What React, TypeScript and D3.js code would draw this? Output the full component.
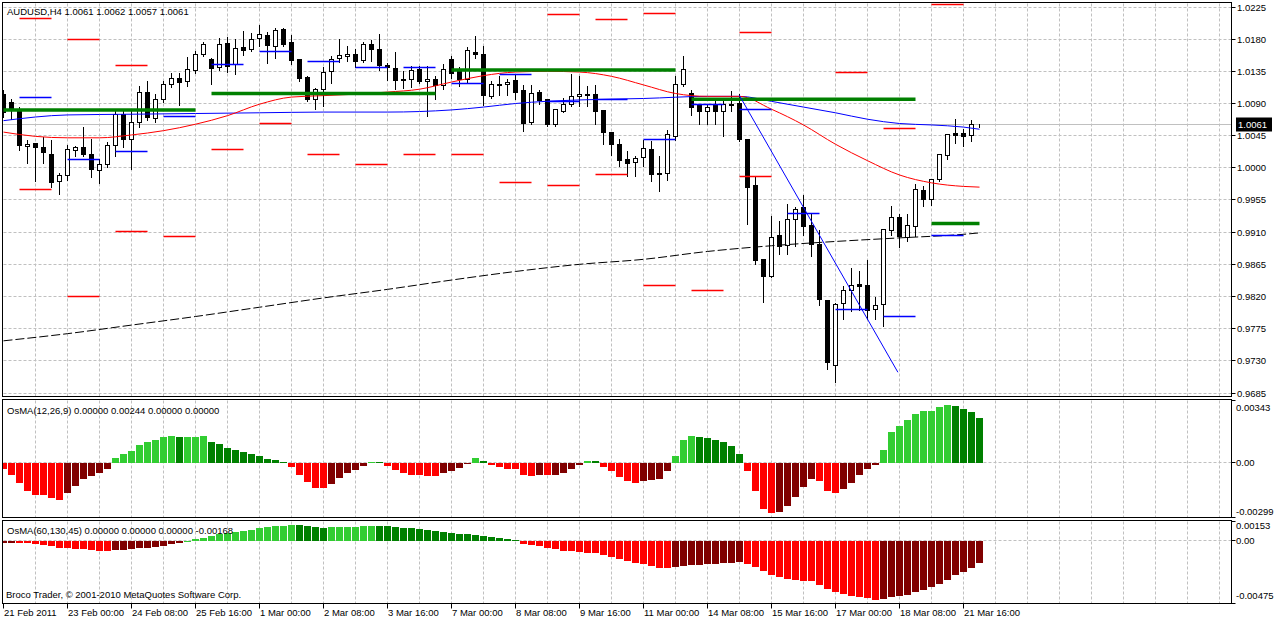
import React from 'react';
import * as d3 from 'd3';

const FONT = '"Liberation Sans", Arial, sans-serif';

const symbolTitle = 'AUDUSD,H4  1.0061 1.0062 1.0057 1.0061';
const fastTitle = 'OsMA(12,26,9) 0.00000 0.00244 0.00000 0.00000';
const slowTitle = 'OsMA(60,130,45) 0.00000 0.00000 0.00000 -0.00168';
const copyright = 'Broco Trader, \u00a9 2001-2010 MetaQuotes Software Corp.';

// H4 candles, [open, high, low, close]
const ohlc: [number, number, number, number][] = [
  [1.0103, 1.0109, 1.0071, 1.0078], [1.0091, 1.0096, 1.0068, 1.0081], [1.0081, 1.0085, 1.0025, 1.0031],
  [1.0030, 1.0039, 1.0007, 1.0033], [1.0034, 1.0035, 0.9982, 1.0029], [1.0029, 1.0043, 1.0007, 1.0022],
  [1.0019, 1.0039, 0.9973, 0.9979], [0.9981, 0.9993, 0.9963, 0.9989], [0.9989, 1.0032, 0.9983, 1.0026],
  [1.0024, 1.0031, 1.0017, 1.0028], [1.0029, 1.0057, 1.0017, 1.0019], [1.0019, 1.0041, 0.9987, 0.9998],
  [0.9996, 1.0012, 0.9979, 1.0005], [1.0005, 1.0036, 1.0001, 1.0031], [1.0031, 1.0080, 1.0017, 1.0075],
  [1.0075, 1.0080, 1.0029, 1.0039], [1.0040, 1.0080, 0.9999, 1.0063], [1.0064, 1.0115, 1.0057, 1.0106],
  [1.0105, 1.0122, 1.0067, 1.0070], [1.0069, 1.0103, 1.0064, 1.0096], [1.0096, 1.0122, 1.0092, 1.0117],
  [1.0117, 1.0132, 1.0113, 1.0125], [1.0125, 1.0133, 1.0088, 1.0119], [1.0121, 1.0155, 1.0114, 1.0138],
  [1.0136, 1.0164, 1.0133, 1.0158], [1.0159, 1.0176, 1.0156, 1.0172], [1.0152, 1.0153, 1.0117, 1.0139],
  [1.0141, 1.0182, 1.0137, 1.0173], [1.0174, 1.0183, 1.0134, 1.0142], [1.0144, 1.0180, 1.0131, 1.0167],
  [1.0169, 1.0192, 1.0158, 1.0164], [1.0166, 1.0188, 1.0163, 1.0180], [1.0181, 1.0200, 1.0171, 1.0186],
  [1.0185, 1.0190, 1.0146, 1.0171], [1.0170, 1.0195, 1.0154, 1.0192], [1.0193, 1.0195, 1.0171, 1.0172],
  [1.0176, 1.0186, 1.0145, 1.0150], [1.0151, 1.0152, 1.0121, 1.0125], [1.0127, 1.0128, 1.0094, 1.0095],
  [1.0096, 1.0111, 1.0082, 1.0109], [1.0110, 1.0141, 1.0087, 1.0134], [1.0135, 1.0157, 1.0119, 1.0151],
  [1.0153, 1.0180, 1.0148, 1.0157], [1.0156, 1.0171, 1.0149, 1.0159], [1.0159, 1.0166, 1.0141, 1.0149],
  [1.0150, 1.0176, 1.0148, 1.0173], [1.0173, 1.0179, 1.0149, 1.0166], [1.0165, 1.0187, 1.0137, 1.0143],
  [1.0143, 1.0147, 1.0123, 1.0140], [1.0139, 1.0162, 1.0110, 1.0122], [1.0124, 1.0136, 1.0111, 1.0122],
  [1.0124, 1.0142, 1.0113, 1.0136], [1.0137, 1.0143, 1.0118, 1.0121], [1.0121, 1.0142, 1.0072, 1.0124],
  [1.0123, 1.0128, 1.0096, 1.0115], [1.0115, 1.0145, 1.0110, 1.0137], [1.0151, 1.0157, 1.0126, 1.0132],
  [1.0135, 1.0141, 1.0114, 1.0123], [1.0124, 1.0169, 1.0119, 1.0164], [1.0162, 1.0185, 1.0154, 1.0158],
  [1.0159, 1.0171, 1.0088, 1.0101], [1.0100, 1.0122, 1.0097, 1.0117], [1.0117, 1.0128, 1.0102, 1.0115],
  [1.0116, 1.0124, 1.0102, 1.0120], [1.0122, 1.0131, 1.0096, 1.0105], [1.0108, 1.0116, 1.0051, 1.0062],
  [1.0063, 1.0116, 1.0061, 1.0104], [1.0106, 1.0109, 1.0089, 1.0094], [1.0096, 1.0096, 1.0059, 1.0060],
  [1.0061, 1.0081, 1.0058, 1.0081], [1.0079, 1.0097, 1.0078, 1.0089], [1.0089, 1.0131, 1.0087, 1.0100],
  [1.0100, 1.0128, 1.0087, 1.0103], [1.0103, 1.0115, 1.0087, 1.0101], [1.0103, 1.0116, 1.0061, 1.0079],
  [1.0080, 1.0080, 1.0033, 1.0049], [1.0049, 1.0049, 1.0018, 1.0032], [1.0033, 1.0040, 1.0002, 1.0010],
  [1.0012, 1.0023, 0.9988, 1.0006], [1.0007, 1.0017, 0.9988, 1.0013], [1.0015, 1.0039, 1.0002, 1.0027],
  [1.0026, 1.0038, 0.9981, 0.9991], [0.9991, 1.0017, 0.9967, 0.9992], [0.9992, 1.0053, 0.9983, 1.0046],
  [1.0044, 1.0129, 1.0039, 1.0117], [1.0116, 1.0157, 1.0114, 1.0138], [1.0104, 1.0109, 1.0074, 1.0084],
  [1.0087, 1.0090, 1.0061, 1.0079], [1.0079, 1.0090, 1.0061, 1.0085], [1.0087, 1.0094, 1.0061, 1.0079],
  [1.0079, 1.0095, 1.0044, 1.0089], [1.0089, 1.0108, 1.0079, 1.0087], [1.0090, 1.0103, 1.0038, 1.0039],
  [1.0039, 1.0039, 0.9922, 0.9973], [0.9975, 0.9988, 0.9866, 0.9870], [0.9872, 0.9872, 0.9813, 0.9848],
  [0.9848, 0.9933, 0.9847, 0.9903], [0.9905, 0.9926, 0.9879, 0.9890], [0.9892, 0.9949, 0.9880, 0.9928],
  [0.9928, 0.9945, 0.9891, 0.9942], [0.9944, 0.9962, 0.9906, 0.9918], [0.9920, 0.9936, 0.9876, 0.9893],
  [0.9893, 0.9913, 0.9808, 0.9816], [0.9815, 0.9815, 0.9718, 0.9727], [0.9723, 0.9811, 0.9701, 0.9809],
  [0.9810, 0.9835, 0.9788, 0.9828], [0.9828, 0.9860, 0.9800, 0.9835], [0.9837, 0.9855, 0.9801, 0.9834],
  [0.9835, 0.9871, 0.9788, 0.9801], [0.9802, 0.9820, 0.9788, 0.9808], [0.9809, 0.9914, 0.9779, 0.9914],
  [0.9913, 0.9947, 0.9906, 0.9931], [0.9930, 0.9935, 0.9889, 0.9904], [0.9903, 0.9935, 0.9897, 0.9919],
  [0.9918, 0.9977, 0.9904, 0.9969], [0.9968, 0.9975, 0.9946, 0.9956], [0.9956, 0.9984, 0.9948, 0.9983],
  [0.9984, 1.0019, 0.9982, 1.0019], [1.0017, 1.0047, 1.0012, 1.0047], [1.0048, 1.0068, 1.0035, 1.0045],
  [1.0048, 1.0055, 1.0030, 1.0044], [1.0045, 1.0067, 1.0037, 1.0061], [1.0061, 1.0062, 1.0057, 1.0061],
];

const lastPrice = 1.0061;

const timeLabels = [
  '21 Feb 2011', '23 Feb 00:00', '24 Feb 08:00', '25 Feb 16:00', '1 Mar 00:00', '2 Mar 08:00',
  '3 Mar 16:00', '7 Mar 00:00', '8 Mar 08:00', '9 Mar 16:00', '11 Mar 00:00', '14 Mar 08:00',
  '15 Mar 16:00', '17 Mar 00:00', '18 Mar 08:00', '21 Mar 16:00',
];
const barsPerLabel = 8;

const priceTicks = [1.0225, 1.018, 1.0135, 1.009, 1.0045, 1.0, 0.9955, 0.991, 0.9865, 0.982, 0.9775, 0.973, 0.9685];

// moving averages, sampled at the given bar indices
const redMaIdx = [0, 4, 8, 12, 16, 20, 24, 28, 32, 36, 40, 44, 48, 52, 56, 60, 64, 68, 72, 76, 80, 84, 88, 92, 96, 100, 104, 108, 112, 116, 120, 122];
const redMa = [1.0050, 1.0044, 1.0042, 1.0042, 1.0046, 1.0052, 1.0061, 1.0073, 1.0089, 1.0099, 1.0101, 1.0103, 1.0106, 1.0110, 1.0120, 1.0129,
  1.0134, 1.0135, 1.0134, 1.0128, 1.0116, 1.0104, 1.0100, 1.0100, 1.0082, 1.0060, 1.0033, 1.0010, 0.9990, 0.9979, 0.9974, 0.9973];
const blueMaIdx = [0, 8, 16, 24, 32, 40, 48, 56, 60, 64, 72, 80, 88, 92, 96, 100, 104, 108, 112, 116, 120, 122];
const blueMa = [1.0066, 1.0074, 1.0075, 1.0076, 1.0077, 1.0078, 1.0078, 1.0081, 1.0085, 1.0090, 1.0095, 1.0097, 1.0100, 1.0100, 1.0093,
  1.0085, 1.0077, 1.0068, 1.0062, 1.0060, 1.0057, 1.0054];
const slowMaIdx = [0, 8, 16, 24, 32, 40, 48, 56, 64, 72, 80, 88, 96, 104, 112, 120, 122];
const slowMa = [0.9758, 0.9768, 0.9780, 0.9792, 0.9805, 0.9818, 0.9830, 0.9843, 0.9855, 0.9865, 0.9872, 0.9883, 0.9891, 0.9897, 0.9902, 0.9907, 0.9909];

// daily levels: [first bar of the day, price]
const redLevels: [number, number][] = [
  [2, 1.0209], [2, 0.9969], [8, 1.0180], [8, 0.9820], [14, 1.0143], [14, 0.9911], [20, 0.9904], [26, 1.0026],
  [32, 1.0062], [38, 1.0019], [44, 1.0005], [50, 1.0019], [56, 1.0018], [62, 0.9980], [68, 1.0214], [68, 0.9975],
  [74, 1.0208], [74, 0.9990], [80, 1.0216], [80, 0.9836], [86, 0.9828], [92, 1.0189], [92, 0.9988], [104, 1.0133],
  [110, 1.0055], [116, 1.0228],
];
const blueLevels: [number, number][] = [
  [2, 1.0099], [8, 1.0012], [14, 1.0023], [20, 1.0072], [26, 1.0145], [32, 1.0163], [38, 1.0149], [44, 1.0141],
  [50, 1.0141], [56, 1.0118], [62, 1.0130], [68, 1.0093], [74, 1.0096], [80, 1.0039], [86, 1.0088], [92, 1.0082],
  [98, 0.9936], [104, 0.9802], [110, 0.9792], [116, 0.9905],
];
const levelBars = 4;
// weekly levels: [from bar, to bar, price]
const greenLevels: [number, number, number][] = [
  [0, 24, 1.0081], [26, 54, 1.0104], [56, 84, 1.0137], [86, 114, 1.0096], [116, 122, 0.9922],
];
const trendLine: [number, number][] = [[92, 1.0101], [111.8, 0.9714]];

// OsMA histograms in units of 0.00001, first value belongs to the bar before the window
const osmaFastPts = [
  -10, -33, -70, -115, -154, -180, -181, -196, -203, -170, -130,
  -93, -75, -60, -33, 24, 46, 64, 95, 114, 125,
  141, 144, 139, 140, 141, 144, 115, 104, 82, 66,
  55, 44, 35, 22, 15, 3, -26, -66, -108, -141,
  -142, -119, -84, -59, -42, -20, 2, 1, -20, -42,
  -60, -68, -71, -75, -76, -60, -44, -31, -4, 24,
  7, -14, -22, -33, -38, -71, -72, -66, -71, -70,
  -55, -33, -11, 11, 10, -22, -49, -77, -104, -115,
  -99, -98, -93, -49, 38, 121, 143, 142, 137, 126,
  110, 93, 49, -44, -154, -253, -275, -274, -236, -187,
  -132, -93, -99, -159, -170, -148, -110, -71, -38, -16,
  71, 165, 203, 231, 264, 280, 285, 302, 313, 312,
  296, 275, 242,
];
const osmaSlowPts = [
  -16, -13, -12, -18, -19, -23, -28, -38, -54, -55, -59,
  -61, -71, -77, -78, -71, -69, -61, -56, -51, -44,
  -36, -23, -13, 2, 15, 25, 36, 56, 64, 71,
  79, 84, 100, 107, 115, 116, 125, 124, 115, 107,
  102, 107, 108, 109, 110, 115, 116, 115, 114, 107,
  100, 99, 92, 84, 77, 69, 64, 56, 55, 46,
  41, 31, 23, 15, 5, -21, -28, -36, -51, -61,
  -74, -75, -82, -90, -91, -105, -120, -136, -151, -166,
  -174, -189, -205, -206, -197, -189, -182, -181, -174, -173,
  -166, -165, -164, -174, -197, -228, -258, -273, -289, -296,
  -304, -305, -335, -365, -388, -404, -419, -427, -434, -450,
  -442, -427, -419, -411, -388, -373, -350, -327, -296, -258,
  -235, -205, -168,
];
const fastTicks = [0.00343, 0, -0.00299];
const slowTicks = [0.00153, 0, -0.00475];

const crisp = (v: number) => Math.round(v - 0.5) + 0.5;

const L = 2.5, R = 1231.5;
const MAIN = { top: 2.5, bottom: 396.5 };
const FAST = { top: 399.5, bottom: 517.5 };
const SLOW = { top: 520.5, bottom: 603.5 };

function histColor(v: number, prev: number) {
  if (v > 0) return v > prev ? '#32CD32' : '#008000';
  return v < prev ? '#FF0000' : '#800000';
}

function Histogram({ pts, y, clip }: { pts: number[]; y: d3.ScaleLinear<number, number>; clip: string }) {
  const x = (i: number) => 3.5 + 8 * i;
  const y0 = Math.round(y(0));
  return (
    <g clipPath={`url(#${clip})`}>
      {pts.slice(1).map((p, k) => {
        const v = p / 1e5;
        const yv = Math.round(y(v));
        const top = Math.min(yv, y0);
        const h = Math.max(Math.abs(yv - y0), 1);
        return <rect key={k} x={x(k) - 3.5} y={v >= 0 ? top : y0} width={7} height={h} fill={histColor(p, pts[k])} />;
      })}
    </g>
  );
}

export default function App() {
  const x = d3.scaleLinear().domain([0, 1]).range([3.5, 11.5]);
  const yMain = d3.scaleLinear().domain([0.9685, 1.0225]).range([393, 7]);
  const yFast = d3.scaleLinear().domain([-0.00299, 0.00343]).range([517, 400]);
  const ySlow = d3.scaleLinear().domain([-0.00475, 0.00153]).range([603, 521]);

  const maLine = d3.line<[number, number]>().x(d => x(d[0])).y(d => yMain(d[1])).curve(d3.curveMonotoneX);
  const redPath = maLine(redMaIdx.map((b, k) => [b, redMa[k]])) || '';
  const bluePath = maLine(blueMaIdx.map((b, k) => [b, blueMa[k]])) || '';
  const slowPath = maLine(slowMaIdx.map((b, k) => [b, slowMa[k]])) || '';
  const trendPath = d3.line<[number, number]>().x(d => x(d[0])).y(d => yMain(d[1]))(trendLine) || '';

  const gridX: number[] = [];
  for (let b = 4; x(b) < R; b += 4) gridX.push(x(b));

  const grid = '#C0C0C0';
  const txt = { fontFamily: FONT, fontSize: 9.5, fill: '#000' } as const;

  const vGrid = (top: number, bottom: number) =>
    gridX.map((gx, k) => (
      <line key={k} x1={gx} x2={gx} y1={top + 1} y2={bottom} stroke={grid} strokeDasharray="3,2" />
    ));

  const lastY = crisp(yMain(lastPrice));

  return (
    <div style={{ position: 'fixed', left: 0, top: 0 }}>
      <svg width={1274} height={620} style={{ display: 'block', background: '#fff' }}>
        <defs>
          <clipPath id="cMain"><rect x={L + 0.5} y={MAIN.top + 0.5} width={R - L - 1} height={MAIN.bottom - MAIN.top - 1} /></clipPath>
          <clipPath id="cFast"><rect x={L + 0.5} y={FAST.top + 0.5} width={R - L - 1} height={FAST.bottom - FAST.top - 1} /></clipPath>
          <clipPath id="cSlow"><rect x={L + 0.5} y={SLOW.top + 0.5} width={R - L - 1} height={SLOW.bottom - SLOW.top - 1} /></clipPath>
        </defs>

        {/* grid */}
        {vGrid(MAIN.top, MAIN.bottom)}
        {vGrid(FAST.top, FAST.bottom)}
        {vGrid(SLOW.top, SLOW.bottom)}
        {priceTicks.map(p => (
          <line key={p} x1={L + 1} x2={R} y1={crisp(yMain(p))} y2={crisp(yMain(p))} stroke={grid} strokeDasharray="3,2" />
        ))}
        <line x1={L + 1} x2={R} y1={crisp(yFast(0))} y2={crisp(yFast(0))} stroke={grid} strokeDasharray="3,2" />
        <line x1={L + 1} x2={R} y1={crisp(ySlow(0))} y2={crisp(ySlow(0))} stroke={grid} strokeDasharray="3,2" />

        <g clipPath="url(#cMain)">
          {/* last price line */}
          <line x1={L} x2={R} y1={lastY} y2={lastY} stroke="#C0C0C0" />

          {/* candles */}
          {ohlc.map(([o, h, l, c], i) => {
            const cx = x(i);
            const yo = crisp(yMain(o));
            const yc = crisp(yMain(c));
            const top = Math.min(yo, yc);
            const bot = Math.max(yo, yc);
            return (
              <g key={i}>
                <line x1={cx} x2={cx} y1={Math.round(yMain(h))} y2={Math.round(yMain(l)) + 1} stroke="#000" />
                <rect x={cx - 2} y={top} width={4} height={bot - top} fill={c < o ? '#000' : '#fff'} stroke="#000" />
              </g>
            );
          })}

          {/* indicators */}
          <path d={slowPath} fill="none" stroke="#000" strokeDasharray="9,3" />
          <path d={bluePath} fill="none" stroke="#0000FF" />
          <path d={redPath} fill="none" stroke="#FF0000" />

          {redLevels.map(([b, p], k) => (
            <line key={'r' + k} x1={x(b)} x2={x(b + levelBars)} y1={crisp(yMain(p))} y2={crisp(yMain(p))} stroke="#FF0000" strokeWidth={1.3} />
          ))}
          {blueLevels.map(([b, p], k) => (
            <line key={'b' + k} x1={x(b)} x2={x(b + levelBars)} y1={crisp(yMain(p))} y2={crisp(yMain(p))} stroke="#0000FF" strokeWidth={1.3} />
          ))}
          {greenLevels.map(([b0, b1, p], k) => (
            <line key={'g' + k} x1={x(b0)} x2={x(b1)} y1={yMain(p)} y2={yMain(p)} stroke="#008000" strokeWidth={3.5} />
          ))}
          <path d={trendPath} fill="none" stroke="#0000FF" />
        </g>

        <Histogram pts={osmaFastPts} y={yFast} clip="cFast" />
        <Histogram pts={osmaSlowPts} y={ySlow} clip="cSlow" />

        {/* frames */}
        {[MAIN, FAST, SLOW].map((p, k) => (
          <rect key={k} x={L} y={p.top} width={R - L} height={p.bottom - p.top} fill="none" stroke="#000" />
        ))}

        {/* titles */}
        <text x={7} y={14.5} {...txt}>{symbolTitle}</text>
        <text x={7} y={413.5} {...txt}>{fastTitle}</text>
        <text x={7} y={533.5} {...txt}>{slowTitle}</text>
        <text x={6} y={598} {...txt}>{copyright}</text>

        {/* price axis */}
        {priceTicks.map(p => {
          const py = crisp(yMain(p));
          return (
            <g key={p}>
              <line x1={R} x2={R + 4} y1={py} y2={py} stroke="#000" />
              <text x={1237} y={py + 3.5} {...txt}>{p.toFixed(4)}</text>
            </g>
          );
        })}
        <rect x={1236} y={lastY - 7} width={36} height={14} fill="#000" />
        <text x={1238} y={lastY + 3.5} {...txt} fill="#fff">{lastPrice.toFixed(4)}</text>

        {/* oscillator axes */}
        {fastTicks.map((v, k) => {
          const py = k === 0 ? FAST.top + 8 : k === 2 ? FAST.bottom - 6 : crisp(yFast(v));
          return (
            <g key={'f' + k}>
              <line x1={R} x2={R + 4} y1={crisp(yFast(v))} y2={crisp(yFast(v))} stroke="#000" />
              <text x={1236} y={py + 3.5} {...txt}>{v === 0 ? '0.00' : v.toFixed(5)}</text>
            </g>
          );
        })}
        {slowTicks.map((v, k) => {
          const py = k === 0 ? SLOW.top + 5 : k === 2 ? SLOW.bottom - 8 : crisp(ySlow(v));
          return (
            <g key={'s' + k}>
              <line x1={R} x2={R + 4} y1={crisp(ySlow(v))} y2={crisp(ySlow(v))} stroke="#000" />
              <text x={1236} y={py + 3.5} {...txt}>{v === 0 ? '0.00' : v.toFixed(5)}</text>
            </g>
          );
        })}

        {/* time axis */}
        {timeLabels.map((t, k) => {
          const tx = x(k * barsPerLabel);
          return (
            <g key={t}>
              <line x1={tx} x2={tx} y1={SLOW.bottom} y2={SLOW.bottom + 5} stroke="#000" />
              <text x={tx + 0.5} y={616} {...txt}>{t}</text>
            </g>
          );
        })}
      </svg>
    </div>
  );
}
